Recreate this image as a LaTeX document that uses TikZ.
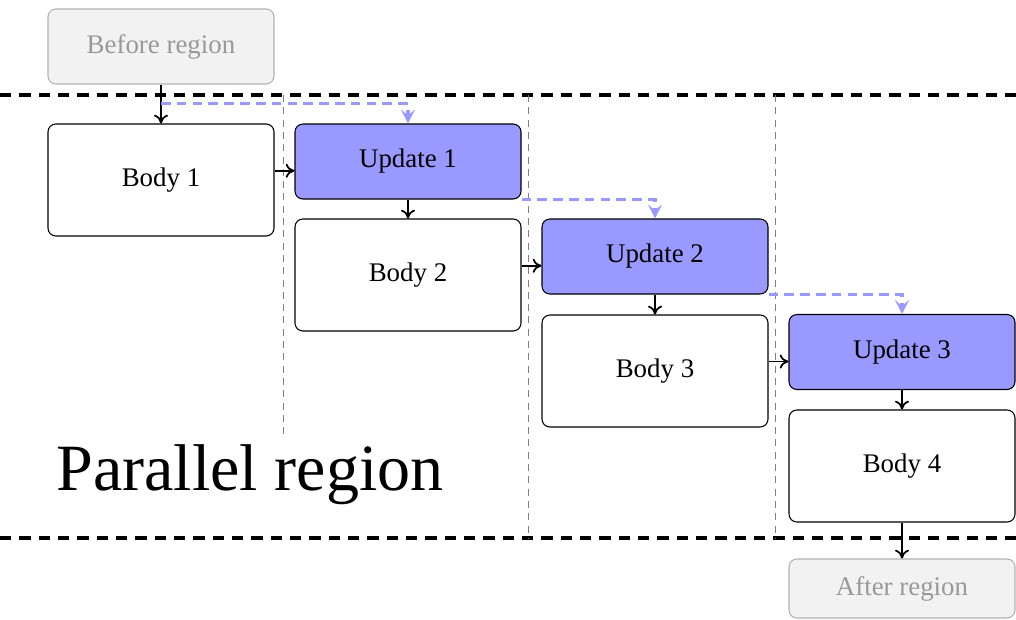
\documentclass[tikz,border=0pt]{standalone}
\usepackage{fontspec}
\setmainfont{Liberation Serif}
\usepackage{tikz}
\usetikzlibrary{arrows.meta, calc, positioning}

\tikzset{
  stage/.style={draw, line width=0.6pt, rounded corners=4.5pt, minimum width=4.52cm,
    font=\fontsize{15.3}{18}\selectfont, inner sep=0pt},
  bodybox/.style={stage, fill=white, minimum height=2.24cm},
  updbox/.style={stage, fill=blue!40, minimum height=1.5cm},
  outbox/.style={stage, draw=black!30, fill=gray!10, text=black!40, minimum height=1.5cm},
  flow/.style={line width=1pt, -{To[length=5pt,width=8pt]}},
  carry/.style={blue!40, line width=1.9pt, dash pattern=on 5.5pt off 3.5pt,
    -{Stealth[length=8pt,width=8pt,inset=3.5pt]}},
  border/.style={line width=1.9pt, dash pattern=on 6.5pt off 4.5pt},
  lane/.style={gray, line width=0.5pt, dash pattern=on 4pt off 3pt}
}

\begin{document}
\begin{tikzpicture}
\useasboundingbox (0,0) rectangle (20.32,-12.38);

% Region borders
\draw[border] (0,-1.9) -- (20.32,-1.9);
\draw[border] (0,-10.76) -- (20.32,-10.76);

% Lanes
\draw[lane] (5.66,-1.9) -- (5.66,-8.7);
\draw[lane] (10.56,-1.9) -- (10.56,-10.76);
\draw[lane] (15.5,-1.9) -- (15.5,-10.76);

\node at (5.0,-9.5) {\fontsize{37.6}{42}\selectfont Parallel region};

% Stages
\node[outbox] (before) at (3.22,-0.93) {Before region};
\node[bodybox] (body1) at (3.22,-3.6) {Body 1};
\node[updbox] (update1) at (8.16,-3.23) {Update 1};
\node[bodybox] (body2) at (8.16,-5.5) {Body 2};
\node[updbox] (update2) at (13.1,-5.13) {Update 2};
\node[bodybox] (body3) at (13.1,-7.42) {Body 3};
\node[updbox] (update3) at (18.04,-7.04) {Update 3};
\node[bodybox] (body4) at (18.04,-9.32) {Body 4};
\node[outbox, minimum height=1.18cm] (after) at (18.04,-11.77) {After region};

% Control flow
\draw[flow] (before) -- (body1);
\draw[flow] (update1) -- (body2);
\draw[flow] (update2) -- (body3);
\draw[flow] (update3) -- (body4);
\draw[flow] (body4) -- (after);
\foreach \b/\u in {body1/update1, body2/update2, body3/update3} {
  \coordinate (mid) at ($(\b.center)!0.5!(\u.center)$);
  \draw[flow] (mid -| \b.east) -- (mid -| \u.west);
}

% Carried values
\coordinate (split) at ($(before.south)+(0,-0.38)$);
\draw[carry] (split) -| (update1.north);
\draw[carry] (update1.south east) -| (update2.north);
\draw[carry] (update2.south east) -| (update3.north);

\end{tikzpicture}
\end{document}
